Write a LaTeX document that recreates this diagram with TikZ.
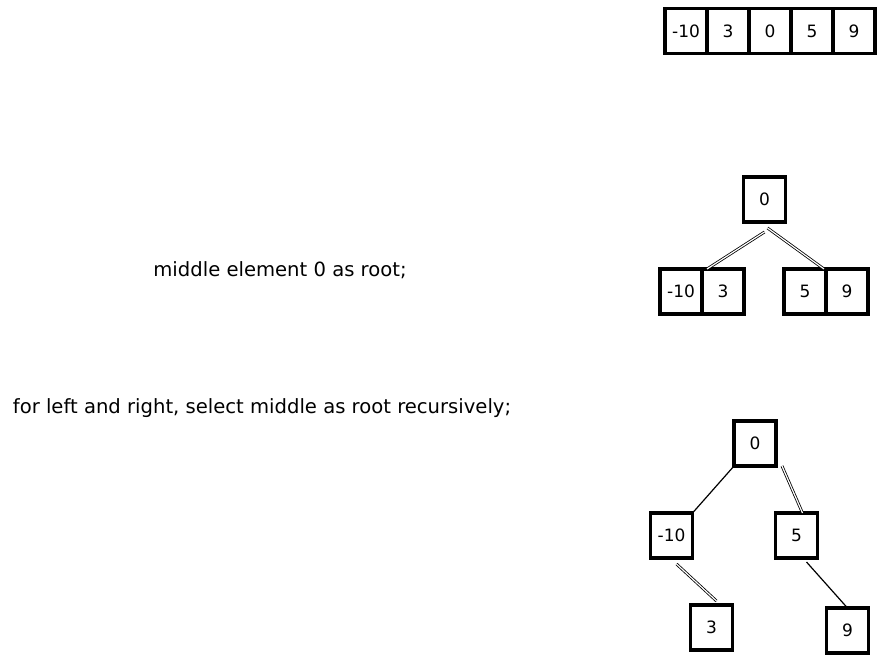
\documentclass[tikz,border=0pt]{standalone}
\usepackage{fontspec}
\setmainfont{DejaVu Sans}
\usetikzlibrary{positioning}

\begin{document}
\begin{tikzpicture}[x=1pt, y=-1pt,
    cell/.style={draw, line width=3.2pt, outer sep=0pt, inner sep=0pt, minimum width=42pt, minimum height=45pt, font=\fontsize{17}{19}\selectfont},
    note/.style={font=\fontsize{19.6}{22}\selectfont},
    edge/.style={line width=1.2pt},
    dbl/.style={double, double distance=1.2pt, line width=0.8pt}
]
\useasboundingbox (0,0) rectangle (883,663);
\node[cell] (a1) at (686,31) {-10};
\node[cell, right=0pt of a1] (a2) {3};
\node[cell, right=0pt of a2] (a3) {0};
\node[cell, right=0pt of a3] (a4) {5};
\node[cell, right=0pt of a4] (a5) {9};

\node[note] (t1) at (280,270) {middle element 0 as root;};
\node[cell] (m0) at (764.5,199.5) {0};
\node[cell] (m10) at (681,291.5) {-10};
\node[cell, right=0pt of m10] (m3) {3};
\node[cell] (m5) at (805,291.5) {5};
\node[cell, right=0pt of m5] (m9) {9};
\draw[dbl] ([yshift=-10pt]m0.south) -- ([xshift=5pt]m3.north west);
\draw[dbl] ([xshift=3pt,yshift=-6pt]m0.south) -- ([xshift=-2pt]m9.north west);

\node[note] (t2) at (262,408) {for left and right, select middle as root recursively;};
\node[cell] (b0) at (755,443.5) {0};
\node[cell] (b10) at (671.5,535.5) {-10};
\node[cell] (b5) at (796.5,535.5) {5};
\node[cell] (b3) at (711.5,627.5) {3};
\node[cell] (b9) at (847.5,630.5) {9};
\draw[edge] (b0.south west) -- (b10.north east);
\draw[dbl] ([xshift=6pt]b0.south east) -- ([xshift=6pt]b5.north);
\draw[dbl] ([xshift=5pt,yshift=-6pt]b10.south) -- ([xshift=5pt,yshift=4pt]b3.north);
\draw[edge] ([xshift=10pt,yshift=-4pt]b5.south) -- (b9.north);
\end{tikzpicture}
\end{document}
